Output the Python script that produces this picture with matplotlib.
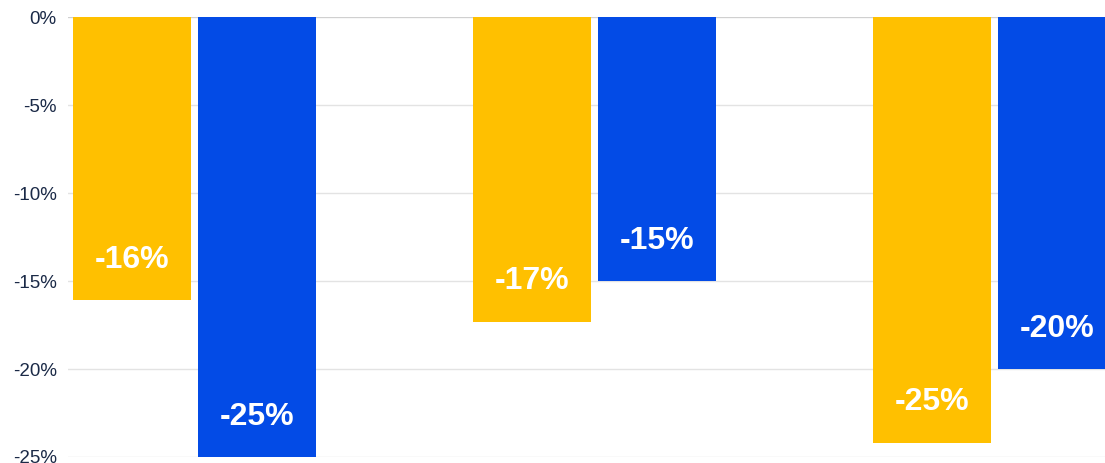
import matplotlib
matplotlib.use('Agg')
from matplotlib import pyplot as plt
import numpy as np

# values (percent)
groups = [0, 1, 2]
yellow_vals = [-16.1, -17.3, -24.2]
blue_vals = [-25.0, -15.0, -20.0]
yellow_labels = ['-16%', '-17%', '-25%']
blue_labels = ['-25%', '-15%', '-20%']
yticks = [0, -5, -10, -15, -20, -25]

cYellow = '#ffc000'
cBlue = '#034be6'
cText = '#1b2a47'
fnt = ['Liberation Sans', 'DejaVu Sans']

fig = plt.figure(figsize=(11.05, 4.63), dpi=100)
ax = fig.add_axes([0.0615, 0.013, 0.9385, 0.95])

x = np.array(groups, dtype=float)
off = 0.156
w = 0.295

ax.bar(x - off, yellow_vals, width=w, color=cYellow, zorder=3)
ax.bar(x + off, blue_vals, width=w, color=cBlue, zorder=3)

for i in range(len(groups)):
    ax.text(x[i] - off, yellow_vals[i] + 2.3, yellow_labels[i], ha='center', va='center',
            color='white', fontsize=23, fontweight='bold', family=fnt, zorder=4)
    ax.text(x[i] + off, blue_vals[i] + 2.3, blue_labels[i], ha='center', va='center',
            color='white', fontsize=23, fontweight='bold', family=fnt, zorder=4)

ax.set_xlim(-0.316, 2.276)
ax.set_ylim(-25, 0)
ax.set_yticks(yticks)
ax.set_yticklabels(['{0}%'.format(t) for t in yticks], family=fnt, fontsize=13.5, color=cText)
ax.set_xticks([])

ax.grid(axis='y', color='#e3e3e3', linewidth=1, zorder=0)
ax.axhline(0, color='#d0d0d0', linewidth=1.5, zorder=2)
for s in ax.spines.values():
    s.set_visible(False)
ax.tick_params(axis='y', length=0, pad=8)

fig.savefig('out.png', dpi=100)
